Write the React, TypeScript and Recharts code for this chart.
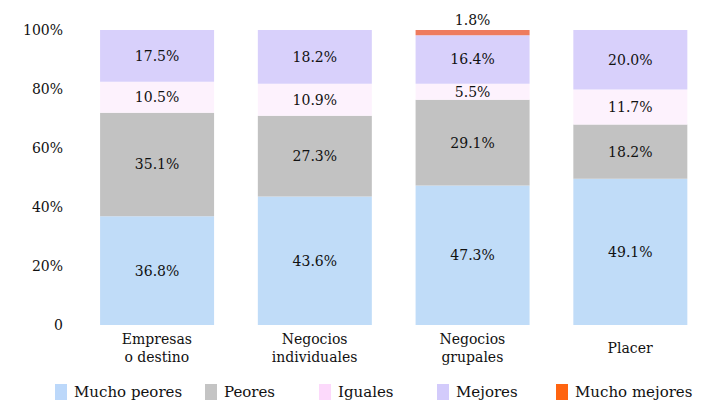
import { Bar, BarChart, LabelList, Legend, XAxis, YAxis } from "recharts"

const categories = ["Empresas\no destino", "Negocios\nindividuales", "Negocios\ngrupales", "Placer"]
const muchoPeores = [36.8, 43.6, 47.3, 49.1]
const peores = [35.1, 27.3, 29.1, 18.2]
const iguales = [10.5, 10.9, 5.5, 11.7]
const mejores = [17.5, 18.2, 16.4, 20.0]
const muchoMejores = [0, 0, 1.8, 0]
const yTicks = [0, 0.2, 0.4, 0.6, 0.8, 1]

const series = [
  { key: "muchoPeores", name: "Mucho peores", color: "#c0dcf8", legend: "#bcd8fa" },
  { key: "peores", name: "Peores", color: "#c2c2c2", legend: "#c4c4c4" },
  { key: "iguales", name: "Iguales", color: "#fdf2fd", legend: "#fcd9fb" },
  { key: "mejores", name: "Mejores", color: "#d8d0fb", legend: "#d3cbfb" },
  { key: "muchoMejores", name: "Mucho mejores", color: "#ee7b5e", legend: "#ff6410" },
]

const data = categories.map((name, i) => ({
  name,
  muchoPeores: muchoPeores[i],
  peores: peores[i],
  iguales: iguales[i],
  mejores: mejores[i],
  muchoMejores: muchoMejores[i],
}))

const font = "'DejaVu Serif', serif"
// left edge of each legend entry, as in the original layout
const legendLeft = [55, 205, 319, 437, 556]

function CategoryTick({ x, y, payload }: any) {
  const lines = String(payload.value).split("\n")
  const start = y + 20 - (lines.length - 1) * 9
  return (
    <text x={x} y={start} textAnchor="middle" fontFamily={font} fontSize={14} fill="#111">
      {lines.map((line, i) => (
        <tspan key={line} x={x} dy={i === 0 ? 0 : 18}>
          {line}
        </tspan>
      ))}
    </text>
  )
}

function LegendRow() {
  return (
    <div style={{ position: "relative", height: 24, fontFamily: font, fontSize: 15, color: "#111" }}>
      {series.map((s, i) => (
        <div
          key={s.key}
          style={{ position: "absolute", left: legendLeft[i], top: 0, display: "flex", alignItems: "center", gap: 7, whiteSpace: "nowrap" }}
        >
          <span style={{ width: 12, height: 16, background: s.legend, display: "inline-block" }} />
          <span>{s.name}</span>
        </div>
      ))}
    </div>
  )
}

const pct = (v: any) => (Number(v) > 0 ? `${Number(v).toFixed(1)}%` : "")

export default function App() {
  return (
    <div style={{ position: "absolute", left: 0, top: 0, background: "#fff" }}>
      <BarChart
        width={709}
        height={401}
        data={data}
        stackOffset="expand"
        margin={{ top: 30, right: 0, bottom: 0, left: 0 }}
        barCategoryGap="14%"
      >
        <XAxis
          dataKey="name"
          axisLine={false}
          tickLine={false}
          interval={0}
          height={52}
          tick={<CategoryTick />}
        />
        <YAxis
          domain={[0, 1]}
          ticks={yTicks}
          width={78}
          axisLine={false}
          tickLine={false}
          tickMargin={9}
          tickFormatter={(v) => (v === 0 ? "0" : `${Math.round(v * 100)}%`)}
          tick={{ fontFamily: font, fontSize: 14, fill: "#111" }}
        />
        <Legend
          verticalAlign="bottom"
          height={24}
          content={<LegendRow />}
          wrapperStyle={{ left: 0, width: 709, bottom: -6 }}
        />
        {series.map((s) => (
          <Bar key={s.key} dataKey={s.key} name={s.name} stackId="a" fill={s.color} isAnimationActive={false}>
            <LabelList
              dataKey={s.key}
              position={s.key === "muchoMejores" ? "top" : "center"}
              formatter={pct}
              style={{ fontFamily: font, fontSize: 14, fill: "#111" }}
            />
          </Bar>
        ))}
      </BarChart>
    </div>
  )
}
